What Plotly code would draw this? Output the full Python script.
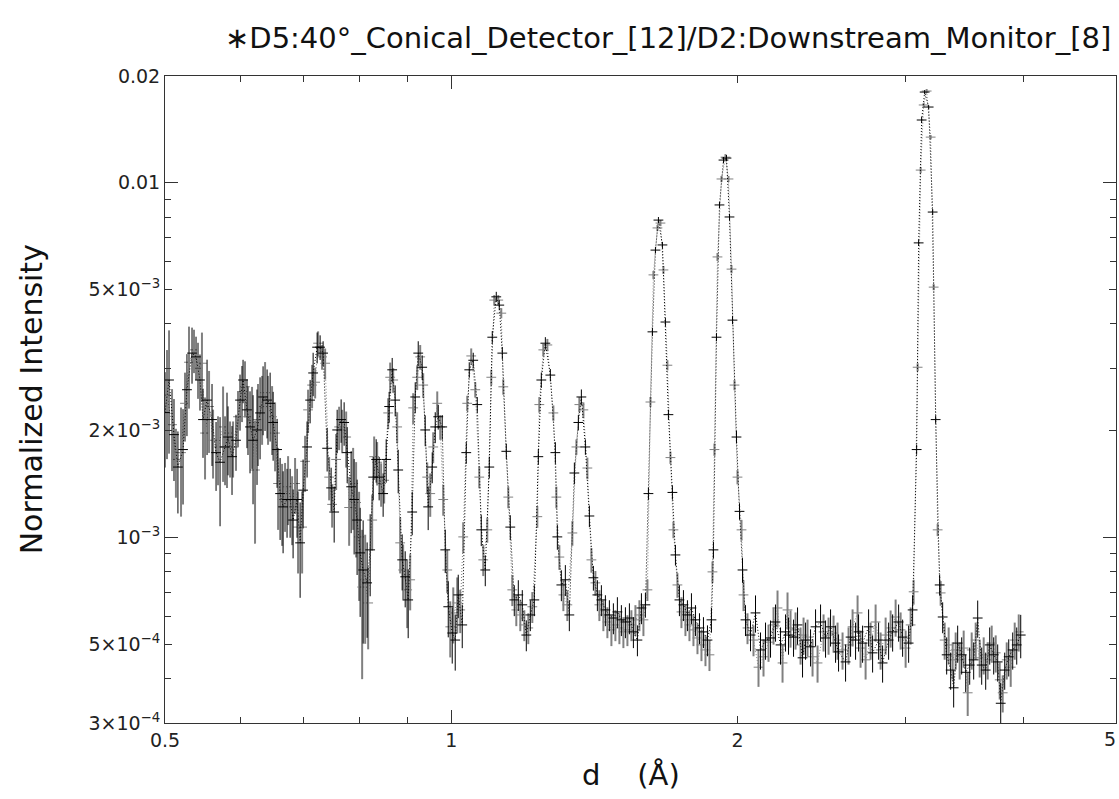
import plotly.graph_objects as go

# d-spacing (Angstrom) of each measured point
d_spacing = [
    0.5000, 0.5024, 0.5049, 0.5086, 0.5110, 0.5134, 0.5159, 0.5198, 0.5223, 0.5248,
    0.5273, 0.5299, 0.5338, 0.5364, 0.5390, 0.5416, 0.5442, 0.5468, 0.5482, 0.5509,
    0.5536, 0.5563, 0.5603, 0.5617, 0.5658, 0.5685, 0.5713, 0.5755, 0.5782, 0.5810,
    0.5824, 0.5853, 0.5881, 0.5896, 0.5938, 0.5967, 0.5996, 0.6025, 0.6040, 0.6069,
    0.6098, 0.6113, 0.6143, 0.6173, 0.6188, 0.6218, 0.6248, 0.6263, 0.6294, 0.6325,
    0.6340, 0.6371, 0.6402, 0.6417, 0.6449, 0.6480, 0.6496, 0.6527, 0.6559, 0.6575,
    0.6607, 0.6639, 0.6655, 0.6687, 0.6719, 0.6736, 0.6769, 0.6802, 0.6818, 0.6851,
    0.6884, 0.6901, 0.6935, 0.6969, 0.6985, 0.7019, 0.7053, 0.7070, 0.7105, 0.7139,
    0.7157, 0.7192, 0.7227, 0.7244, 0.7279, 0.7314, 0.7332, 0.7368, 0.7404, 0.7440,
    0.7476, 0.7494, 0.7531, 0.7567, 0.7586, 0.7622, 0.7659, 0.7678, 0.7715, 0.7753,
    0.7772, 0.7809, 0.7847, 0.7885, 0.7904, 0.7942, 0.7961, 0.8000, 0.8020, 0.8059,
    0.8078, 0.8118, 0.8157, 0.8177, 0.8217, 0.8257, 0.8277, 0.8297, 0.8337, 0.8357,
    0.8398, 0.8438, 0.8479, 0.8500, 0.8542, 0.8583, 0.8604, 0.8625, 0.8667, 0.8688,
    0.8730, 0.8772, 0.8794, 0.8836, 0.8879, 0.8900, 0.8944, 0.8987, 0.9009, 0.9053,
    0.9097, 0.9119, 0.9164, 0.9208, 0.9231, 0.9275, 0.9320, 0.9343, 0.9388, 0.9434,
    0.9456, 0.9503, 0.9549, 0.9572, 0.9619, 0.9666, 0.9689, 0.9736, 0.9783, 0.9807,
    0.9855, 0.9903, 0.9927, 0.9975, 1.0023, 1.0048, 1.0096, 1.0145, 1.0170, 1.0219,
    1.0269, 1.0293, 1.0369, 1.0394, 1.0445, 1.0495, 1.0546, 1.0598, 1.0649, 1.0701,
    1.0753, 1.0805, 1.0858, 1.0911, 1.0964, 1.1017, 1.1043, 1.1097, 1.1151, 1.1205,
    1.1232, 1.1287, 1.1315, 1.1342, 1.1425, 1.1480, 1.1536, 1.1592, 1.1648, 1.1705,
    1.1762, 1.1819, 1.1876, 1.1934, 1.1992, 1.2050, 1.2109, 1.2168, 1.2227, 1.2316,
    1.2346, 1.2376, 1.2436, 1.2496, 1.2558, 1.2619, 1.2711, 1.2804, 1.2866, 1.2897,
    1.2928, 1.2991, 1.3054, 1.3118, 1.3181, 1.3245, 1.3309, 1.3407, 1.3472, 1.3538,
    1.3603, 1.3636, 1.3702, 1.3769, 1.3836, 1.3903, 1.3971, 1.4039, 1.4107, 1.4175,
    1.4244, 1.4313, 1.4383, 1.4452, 1.4523, 1.4593, 1.4664, 1.4736, 1.4807, 1.4879,
    1.4951, 1.5024, 1.5096, 1.5170, 1.5244, 1.5318, 1.5392, 1.5467, 1.5542, 1.5618,
    1.5694, 1.5770, 1.5847, 1.5924, 1.6001, 1.6079, 1.6118, 1.6196, 1.6275, 1.6314,
    1.6394, 1.6474, 1.6513, 1.6594, 1.6674, 1.6715, 1.6795, 1.6876, 1.6917, 1.7000,
    1.7082, 1.7124, 1.7207, 1.7290, 1.7374, 1.7459, 1.7544, 1.7629, 1.7715, 1.7801,
    1.7887, 1.7974, 1.8062, 1.8150, 1.8238, 1.8326, 1.8415, 1.8505, 1.8595, 1.8685,
    1.8775, 1.8821, 1.8866, 1.8912, 1.9005, 1.9051, 1.9143, 1.9236, 1.9330, 1.9424,
    1.9471, 1.9565, 1.9613, 1.9709, 1.9756, 1.9852, 1.9948, 1.9997, 2.0094, 2.0192,
    2.0241, 2.0290, 2.0388, 2.0487, 2.0637, 2.0787, 2.0888, 2.1040, 2.1143, 2.1297,
    2.1401, 2.1557, 2.1662, 2.1820, 2.1926, 2.2032, 2.2193, 2.2301, 2.2463, 2.2572,
    2.2627, 2.2737, 2.2903, 2.3014, 2.3126, 2.3295, 2.3408, 2.3465, 2.3579, 2.3693,
    2.3866, 2.3982, 2.4157, 2.4274, 2.4451, 2.4629, 2.4749, 2.4929, 2.5051, 2.5233,
    2.5356, 2.5479, 2.5541, 2.5789, 2.5978, 2.6167, 2.6295, 2.6423, 2.6615, 2.6744,
    2.6809, 2.6939, 2.7070, 2.7269, 2.7468, 2.7601, 2.7735, 2.7938, 2.8141, 2.8278,
    2.8415, 2.8623, 2.8831, 2.8972, 2.9113, 2.9325, 2.9538, 2.9682, 2.9826, 3.0044,
    3.0263, 3.0410, 3.0557, 3.0631, 3.0856, 3.0931, 3.1006, 3.1157, 3.1232, 3.1384,
    3.1460, 3.1613, 3.1767, 3.1921, 3.2076, 3.2153, 3.2310, 3.2467, 3.2624, 3.2704,
    3.2863, 3.3022, 3.3183, 3.3344, 3.3506, 3.3669, 3.3750, 3.3914, 3.4078, 3.4244,
    3.4411, 3.4578, 3.4747, 3.4916, 3.5085, 3.5255, 3.5426, 3.5599, 3.5772, 3.5945,
    3.6120, 3.6295, 3.6472, 3.6649, 3.6827, 3.7005, 3.7185, 3.7366, 3.7547, 3.7730,
    3.7822, 3.8005, 3.8190, 3.8376, 3.8562, 3.8749, 3.8937, 3.9126, 3.9317, 3.9508,
    3.9700,
]

# normalized intensity, in units of 1e-3
intensity_e3 = [
    2.25, 2.52, 2.78, 2.08, 1.95, 1.66, 1.58, 1.735, 1.77, 2.39,
    2.61, 3.12, 3.31, 3.38, 3.23, 3.00, 2.78, 3.10, 2.15, 1.97,
    2.44, 2.34, 2.15, 1.88, 1.735, 1.80, 1.63, 2.05, 1.80, 1.97,
    1.92, 1.80, 1.69, 1.80, 1.88, 2.19, 2.44, 2.58, 2.78, 2.66,
    2.29, 2.19, 2.05, 2.11, 1.88, 1.55, 2.01, 2.15, 2.245, 2.34,
    2.49, 2.56, 2.44, 2.34, 2.39, 2.19, 2.11, 1.97, 1.77, 1.42,
    1.33, 1.28, 1.22, 1.33, 1.28, 1.39, 1.28, 1.22, 1.12, 1.42,
    1.28, 1.07, 0.966, 1.07, 1.36, 1.64, 1.80, 2.29, 2.44, 2.69,
    2.91, 2.74, 3.44, 3.53, 3.44, 3.23, 3.31, 3.10, 1.785, 1.48,
    1.38, 1.24, 1.18, 1.66, 2.01, 2.05, 2.15, 2.01, 2.11, 1.92,
    1.735, 1.215, 1.39, 1.42, 1.28, 1.255, 1.12, 1.004, 0.905, 0.725,
    0.810, 0.760, 0.745, 0.654, 0.923, 1.12, 1.48, 1.69, 1.66, 1.63,
    1.48, 1.42, 1.33, 1.45, 1.66, 2.245, 2.34, 2.83, 2.97, 2.78,
    2.44, 2.05, 1.55, 0.966, 0.865, 0.810, 0.775, 0.712, 0.667, 0.760,
    1.18, 2.32, 2.49, 2.83, 3.31, 3.23, 3.02, 2.69, 2.01, 1.48,
    1.22, 1.33, 1.58, 1.80, 2.05, 2.39, 2.19, 2.05, 2.05, 1.28,
    0.923, 0.810, 0.638, 0.560, 0.538, 0.613, 0.514, 0.654, 0.689, 0.625,
    0.567, 1.004, 1.735, 2.39, 2.97, 3.25, 3.16, 2.61, 2.37, 1.48,
    1.051, 0.865, 0.810, 1.051, 1.58, 2.83, 3.67, 4.67, 4.77, 4.67,
    4.52, 4.29, 3.31, 2.66, 1.75, 1.30, 1.07, 0.712, 0.667, 0.625,
    0.689, 0.605, 0.646, 0.567, 0.531, 0.556, 0.605, 0.638, 0.667, 1.145,
    1.69, 2.37, 2.78, 3.38, 3.53, 3.49, 2.87, 2.245, 1.735, 1.30,
    1.004, 0.881, 0.735, 0.689, 0.760, 0.646, 0.605, 1.03, 1.52, 1.80,
    2.11, 2.37, 2.49, 2.29, 1.80, 1.57, 1.15, 0.865, 0.770, 0.745,
    0.689, 0.646, 0.667, 0.605, 0.625, 0.578, 0.605, 0.549, 0.593, 0.567,
    0.617, 0.556, 0.586, 0.542, 0.578, 0.549, 0.593, 0.567, 0.542, 0.586,
    0.514, 0.605, 0.633, 0.586, 0.646, 0.712, 1.33, 2.41, 3.80, 5.50,
    6.46, 7.46, 7.85, 7.70, 6.68, 5.68, 4.05, 3.06, 2.22, 1.68,
    1.34, 1.051, 0.893, 0.735, 0.667, 0.617, 0.646, 0.586, 0.605, 0.567,
    0.633, 0.549, 0.586, 0.521, 0.556, 0.498, 0.542, 0.482, 0.514, 0.467,
    0.586, 0.800, 0.923, 1.77, 3.67, 6.18, 8.66, 10.25, 11.59, 11.81,
    11.74, 10.25, 8.01, 5.71, 4.10, 2.69, 1.92, 1.48, 1.185, 1.051,
    0.810, 0.689, 0.586, 0.556, 0.531, 0.514, 0.613, 0.431, 0.482, 0.461,
    0.514, 0.507, 0.521, 0.567, 0.578, 0.633, 0.498, 0.443, 0.542, 0.625,
    0.531, 0.556, 0.524, 0.549, 0.567, 0.498, 0.458, 0.531, 0.514, 0.524,
    0.492, 0.461, 0.560, 0.443, 0.578, 0.542, 0.521, 0.531, 0.560, 0.538,
    0.504, 0.514, 0.476, 0.482, 0.446, 0.498, 0.524, 0.560, 0.514, 0.613,
    0.542, 0.488, 0.504, 0.452, 0.560, 0.514, 0.473, 0.578, 0.514, 0.482,
    0.443, 0.531, 0.514, 0.556, 0.542, 0.597, 0.578, 0.549, 0.524, 0.488,
    0.504, 0.567, 0.625, 0.703, 1.77, 3.02, 6.77, 10.86, 15.03, 16.57,
    18.02, 18.14, 16.35, 13.45, 8.27, 5.08, 2.15, 1.051, 0.735, 0.698,
    0.597, 0.514, 0.467, 0.498, 0.423, 0.452, 0.377, 0.482, 0.504, 0.452,
    0.467, 0.488, 0.417, 0.365, 0.437, 0.482, 0.452, 0.514, 0.593, 0.458,
    0.437, 0.467, 0.423, 0.452, 0.498, 0.504, 0.467, 0.473, 0.446, 0.397,
    0.341, 0.365, 0.423, 0.452, 0.461, 0.431, 0.482, 0.514, 0.498, 0.542,
    0.531,
]

# relative uncertainty of each point
rel_error = [
    0.30, 0.34, 0.38, 0.26, 0.26, 0.22, 0.26, 0.34, 0.30, 0.22,
    0.26, 0.26, 0.18, 0.14, 0.14, 0.18, 0.18, 0.22, 0.22, 0.26,
    0.30, 0.26, 0.26, 0.22, 0.22, 0.22, 0.34, 0.30, 0.22, 0.30,
    0.22, 0.18, 0.22, 0.18, 0.18, 0.18, 0.18, 0.18, 0.14, 0.18,
    0.22, 0.22, 0.26, 0.26, 0.34, 0.38, 0.30, 0.26, 0.26, 0.22,
    0.22, 0.22, 0.22, 0.22, 0.22, 0.22, 0.22, 0.22, 0.22, 0.26,
    0.26, 0.26, 0.26, 0.22, 0.22, 0.22, 0.22, 0.22, 0.22, 0.18,
    0.22, 0.26, 0.30, 0.26, 0.22, 0.18, 0.18, 0.14, 0.14, 0.14,
    0.14, 0.10, 0.10, 0.08, 0.08, 0.08, 0.08, 0.10, 0.14, 0.14,
    0.14, 0.14, 0.18, 0.18, 0.14, 0.14, 0.14, 0.14, 0.14, 0.18,
    0.18, 0.22, 0.26, 0.26, 0.30, 0.30, 0.30, 0.34, 0.34, 0.45,
    0.38, 0.34, 0.30, 0.26, 0.26, 0.18, 0.14, 0.14, 0.14, 0.14,
    0.14, 0.14, 0.14, 0.14, 0.14, 0.10, 0.10, 0.10, 0.08, 0.08,
    0.10, 0.10, 0.14, 0.18, 0.18, 0.18, 0.18, 0.22, 0.22, 0.18,
    0.14, 0.10, 0.10, 0.08, 0.08, 0.08, 0.08, 0.08, 0.10, 0.10,
    0.14, 0.14, 0.10, 0.10, 0.10, 0.08, 0.08, 0.08, 0.08, 0.10,
    0.14, 0.14, 0.18, 0.18, 0.18, 0.18, 0.18, 0.18, 0.14, 0.14,
    0.14, 0.10, 0.07, 0.05, 0.05, 0.05, 0.05, 0.05, 0.05, 0.07,
    0.10, 0.10, 0.10, 0.08, 0.07, 0.05, 0.04, 0.033, 0.033, 0.033,
    0.033, 0.033, 0.04, 0.05, 0.05, 0.07, 0.08, 0.10, 0.10, 0.10,
    0.10, 0.10, 0.10, 0.10, 0.10, 0.10, 0.10, 0.10, 0.10, 0.07,
    0.05, 0.05, 0.05, 0.04, 0.04, 0.04, 0.04, 0.05, 0.07, 0.07,
    0.08, 0.08, 0.10, 0.10, 0.10, 0.10, 0.10, 0.08, 0.07, 0.05,
    0.05, 0.05, 0.05, 0.05, 0.05, 0.07, 0.07, 0.08, 0.08, 0.08,
    0.10, 0.10, 0.10, 0.10, 0.10, 0.10, 0.10, 0.10, 0.10, 0.10,
    0.10, 0.10, 0.10, 0.10, 0.10, 0.10, 0.10, 0.10, 0.10, 0.10,
    0.10, 0.10, 0.10, 0.10, 0.08, 0.07, 0.04, 0.033, 0.026, 0.026,
    0.02, 0.02, 0.02, 0.02, 0.02, 0.026, 0.026, 0.033, 0.033, 0.04,
    0.046, 0.053, 0.067, 0.08, 0.10, 0.10, 0.10, 0.10, 0.10, 0.10,
    0.10, 0.10, 0.10, 0.10, 0.10, 0.10, 0.10, 0.10, 0.10, 0.10,
    0.08, 0.07, 0.053, 0.04, 0.026, 0.026, 0.02, 0.02, 0.02, 0.02,
    0.02, 0.02, 0.02, 0.026, 0.026, 0.033, 0.04, 0.046, 0.053, 0.067,
    0.08, 0.10, 0.10, 0.10, 0.10, 0.10, 0.12, 0.12, 0.12, 0.12,
    0.12, 0.12, 0.12, 0.12, 0.12, 0.12, 0.12, 0.12, 0.12, 0.12,
    0.12, 0.12, 0.12, 0.12, 0.12, 0.12, 0.12, 0.12, 0.12, 0.12,
    0.12, 0.12, 0.12, 0.12, 0.12, 0.12, 0.12, 0.12, 0.12, 0.12,
    0.12, 0.12, 0.12, 0.12, 0.12, 0.12, 0.12, 0.12, 0.12, 0.12,
    0.12, 0.12, 0.12, 0.12, 0.12, 0.12, 0.12, 0.12, 0.12, 0.12,
    0.12, 0.12, 0.12, 0.12, 0.12, 0.12, 0.12, 0.12, 0.12, 0.12,
    0.12, 0.12, 0.10, 0.08, 0.033, 0.026, 0.02, 0.02, 0.02, 0.013,
    0.013, 0.013, 0.013, 0.013, 0.02, 0.02, 0.026, 0.04, 0.067, 0.08,
    0.10, 0.12, 0.12, 0.12, 0.12, 0.12, 0.12, 0.12, 0.12, 0.12,
    0.12, 0.12, 0.12, 0.14, 0.12, 0.12, 0.12, 0.12, 0.12, 0.12,
    0.12, 0.12, 0.12, 0.12, 0.12, 0.12, 0.12, 0.12, 0.12, 0.12,
    0.14, 0.12, 0.12, 0.12, 0.12, 0.12, 0.12, 0.12, 0.12, 0.12,
    0.14,
]

title_text = "∗D5:40°_Conical_Detector_[12]/D2:Downstream_Monitor_[8]"
x_title = "d    (Å)"
y_title = "Normalized Intensity"

x_tick_vals = [0.5, 1, 2, 5]
x_tick_text = ["0.5", "1", "2", ""]
x_edge_label = "5"
x_minor_vals = [0.6, 0.7, 0.8, 0.9, 3, 4]
x_decade_vals = [1]
y_tick_vals = [3e-4, 5e-4, 1e-3, 2e-3, 5e-3, 0.01, 0.02]
y_tick_text = ["3×10<sup>−4</sup>", "5×10<sup>−4</sup>", "10<sup>−3</sup>",
               "2×10<sup>−3</sup>", "5×10<sup>−3</sup>", "0.01", "0.02"]
y_minor_vals = [4e-4, 6e-4, 7e-4, 8e-4, 9e-4, 3e-3, 4e-3, 6e-3, 7e-3, 8e-3, 9e-3]
y_decade_vals = [1e-3, 1e-2]

intensity = [v * 1e-3 for v in intensity_e3]
errors = [i * r for i, r in zip(intensity, rel_error)]

fig = go.Figure()
styles = [
    (slice(1, None, 2), "#808080", 2.0),
    (slice(0, None, 2), "#000000", 1.0),
]
for sl, col, ew in styles:
    fig.add_trace(go.Scatter(
        x=d_spacing[sl], y=intensity[sl],
        mode="lines+markers",
        line=dict(color=col, width=1, dash="1px,2px"),
        marker=dict(symbol="line-ew", size=7, color=col,
                    line=dict(color=col, width=1)),
        error_y=dict(type="data", array=errors[sl], visible=True,
                     color=col, thickness=ew, width=0),
        showlegend=False, hoverinfo="skip",
    ))

# empty trace that carries the overlay axes used for the long decade ticks
fig.add_trace(go.Scatter(x=[], y=[], xaxis="x2", yaxis="y2",
                         showlegend=False, hoverinfo="skip"))

axis_font = dict(family="DejaVu Sans, sans-serif", size=19, color="#222222")
common = dict(
    type="log", showline=True, linecolor="#333333", linewidth=1,
    mirror="allticks", ticks="inside", ticklen=7, tickcolor="#333333",
    showgrid=False, zeroline=False, tickmode="array", tickfont=axis_font,
    automargin=False,
)
x_range = [-0.30103, 0.69897]
y_range = [-3.52288, -1.69897]

fig.update_layout(
    xaxis=dict(**common, range=x_range, tickvals=x_tick_vals, ticktext=x_tick_text,
               ticklabeloverflow="allow",
               minor=dict(tickmode="array", tickvals=x_minor_vals, ticks="inside",
                          ticklen=6, tickcolor="#333333", showgrid=False)),
    yaxis=dict(**common, range=y_range, tickvals=y_tick_vals, ticktext=y_tick_text,
               ticklabeloverflow="allow",
               minor=dict(tickmode="array", tickvals=y_minor_vals, ticks="inside",
                          ticklen=6, tickcolor="#333333", showgrid=False)),
    xaxis2=dict(type="log", range=x_range, overlaying="x", anchor="y",
                tickmode="array", tickvals=x_decade_vals, ticks="inside",
                ticklen=13, tickcolor="#333333", showticklabels=False,
                showline=False, mirror="allticks", showgrid=False, zeroline=False,
                automargin=False),
    yaxis2=dict(type="log", range=y_range, overlaying="y", anchor="x",
                tickmode="array", tickvals=y_decade_vals, ticks="inside",
                ticklen=13, tickcolor="#333333", showticklabels=False,
                showline=False, mirror="allticks", showgrid=False, zeroline=False,
                automargin=False),
)

fig.update_layout(
    width=1119, height=799,
    margin=dict(l=165, r=3, t=76, b=76, autoexpand=False),
    paper_bgcolor="white", plot_bgcolor="white",
    annotations=[
        dict(text=title_text, xref="paper", yref="paper", x=0.997, y=1.058,
             xanchor="right", yanchor="middle", showarrow=False,
             font=dict(family="DejaVu Sans, sans-serif", size=29, color="#111111")),
        dict(text=y_title, xref="paper", yref="paper", x=-0.14, y=0.5,
             xanchor="center", yanchor="middle", textangle=-90, showarrow=False,
             font=dict(family="DejaVu Sans, sans-serif", size=30, color="#111111")),
        dict(text=x_title, xref="paper", yref="paper", x=0.49, y=-0.08,
             xanchor="center", yanchor="middle", showarrow=False,
             font=dict(family="DejaVu Sans, sans-serif", size=29, color="#111111")),
        dict(text=x_edge_label, xref="paper", yref="paper", x=1.002, y=-0.0255,
             xanchor="right", yanchor="middle", showarrow=False,
             font=axis_font),
    ],
)

fig.write_html("out.html")
